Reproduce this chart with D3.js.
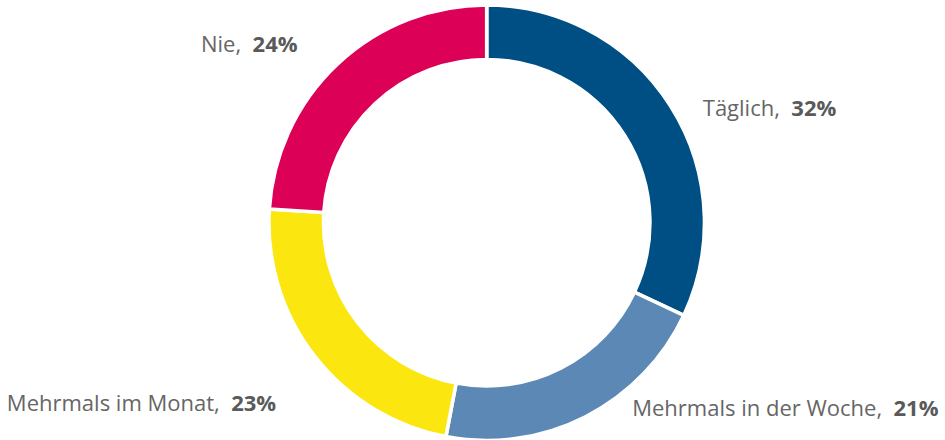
<!DOCTYPE html>
<html>
<head>
<meta charset="utf-8">
<script src="https://cdn.jsdelivr.net/npm/d3@7"></script>
<style>
  body { margin: 0; background: #fff; }
  svg { display: block; font-family: "Open Sans", sans-serif; }
</style>
</head>
<body>
<div class="chart_container"></div>
<script>
// data
var categories = ["Täglich", "Mehrmals in der Woche", "Mehrmals im Monat", "Nie"];
var values = [32, 21, 23, 24];
var colors = ["#004f84", "#5c88b5", "#fbe60f", "#dc0057"];

// label nudges from the arc centroid (px), Highcharts-like layout
var labelNudge = [[5, 27], [32, -29], [-13, 35], [-18, 12]];

var width = 945, height = 440;
var cx = 486.7, cy = 222.7;
var stroke = 3.6;

var svg = d3.select(".chart_container").append("svg")
    .attr("width", width)
    .attr("height", height);

var g = svg.append("g")
    .attr("transform", "translate(" + cx + "," + cy + ")");

var data = categories.map(function(c, i) {
    return { name: c, value: values[i], color: colors[i] };
});

var pie = d3.pie()
    .value(d => d.value)
    .sort(null);

var arcs = pie(data);

var arc = d3.arc()
    .innerRadius(165 - stroke / 2)
    .outerRadius(216 + stroke / 2);

var labelArc = d3.arc()
    .innerRadius(250)
    .outerRadius(250);

g.selectAll("path")
    .data(arcs)
    .enter().append("path")
        .attr("d", arc)
        .style("fill", d => d.data.color)
        .style("stroke", "#fff")
        .style("stroke-width", stroke + "px");

g.selectAll("text")
    .data(arcs)
    .enter().append("text")
        .attr("transform", (d, i) => {
            var c = labelArc.centroid(d);
            return "translate(" + (c[0] + labelNudge[i][0]) + "," + (c[1] + labelNudge[i][1]) + ")";
        })
        .attr("text-anchor", d => ((d.startAngle + d.endAngle) / 2 < Math.PI ? "start" : "end"))
        .style("font-size", "22px")
        .style("fill", "#666")
        .each(function(d) {
            var t = d3.select(this);
            t.append("tspan").text(d.data.name + ",\u00a0\u00a0");
            t.append("tspan")
                .style("font-weight", "bold")
                .style("fill", "#5a5a5a")
                .text(d.data.value + "%");
        });
</script>
</body>
</html>
